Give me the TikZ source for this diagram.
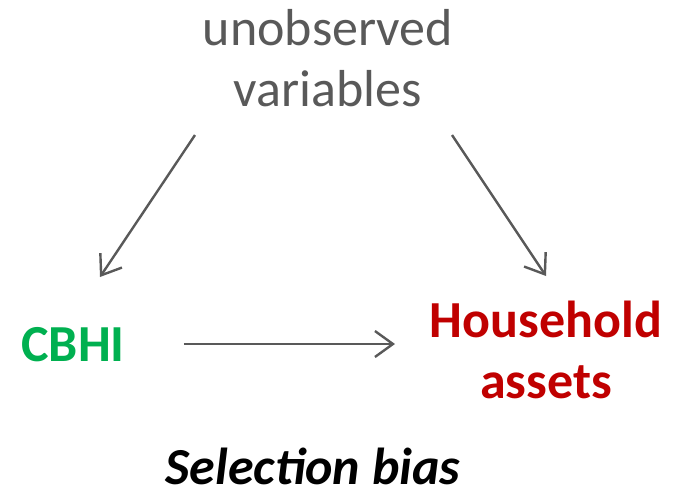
\documentclass[tikz,border=0pt]{standalone}
\usepackage{fontspec}
\setmainfont{Carlito}
\usetikzlibrary{arrows.meta, positioning}

\definecolor{cbhigreen}{HTML}{00B050}
\definecolor{assetred}{HTML}{C00000}
\definecolor{darkgray}{HTML}{595959}

\tikzset{
  label/.style={inner sep=0pt, align=center, font=\fontsize{52}{61}\selectfont},
  arr/.style={-{Straight Barb[length=18pt,width=26pt,line width=2.4pt]}, draw=darkgray, line width=2.4pt}
}

\begin{document}
\begin{tikzpicture}[x=1pt, y=-1pt]
        \useasboundingbox (0,0) rectangle (683,493);

        % Define the nodes
        \node[label, text=darkgray] (unobs) at (328,58) {unobserved\\variables};
        \node[label, text=cbhigreen, font=\fontsize{52}{61}\selectfont\bfseries] (cbhi) at (73,345) {CBHI};
        \node[label, text=assetred, font=\fontsize{52}{61}\selectfont\bfseries] (assets) at (546,350) {Household\\assets};
        \node[label, font=\fontsize{52}{61}\selectfont\bfseries\itshape] (bias) at (313,466) {Selection bias};

        % Arrow ends
        \coordinate (u1) at (195,135);
        \coordinate (c1) at (100,277);
        \coordinate (u2) at (452,135);
        \coordinate (a2) at (546,276);
        \coordinate (h2) at (395,344);

        % Draw arrows
        \draw[arr] (u1) -- (c1);
        \draw[arr] (u2) -- (a2);
        \draw[arr] ([xshift=59pt]cbhi.east |- h2) -- (h2);
\end{tikzpicture}
\end{document}
